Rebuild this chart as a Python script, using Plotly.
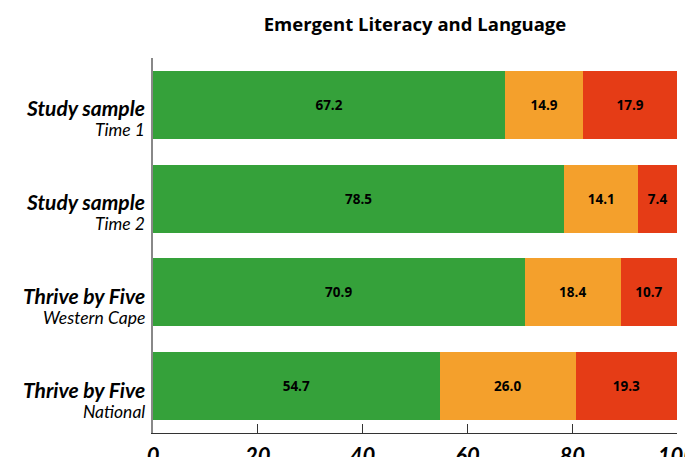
import plotly.graph_objects as go

categories = ["Study sample|Time 1", "Study sample|Time 2", "Thrive by Five|Western Cape", "Thrive by Five|National"]
green_vals = [67.2, 78.5, 70.9, 54.7]
orange_vals = [14.9, 14.1, 18.4, 26.0]
red_vals = [17.9, 7.4, 10.7, 19.3]
x_ticks = [0, 20, 40, 60, 80, 100]

# the page adds an 8px body margin; compensate so the plot lands where the reference has it
OFF = 8
W, H = 693, 457
L, R, T, B = 153 - OFF, W - 677 + OFF, 57.5 - OFF, H - 433 + OFF

fig = go.Figure()
for vals, color in [(green_vals, "#35a13a"), (orange_vals, "#f4a02c"), (red_vals, "#e53c16")]:
    fig.add_trace(go.Bar(
        y=categories, x=vals, orientation="h",
        marker=dict(color=color, line=dict(width=0)),
        text=["%.1f" % v for v in vals],
        textposition="inside", insidetextanchor="middle",
        textfont=dict(family="Open Sans", size=13.5, color="black", weight="bold"),
        textangle=0,
        showlegend=False,
    ))

for c in categories:
    main, sub = c.split("|")
    fig.add_annotation(
        xref="paper", x=0, yref="y", y=c,
        xanchor="right", yanchor="middle", align="right",
        xshift=-6, yshift=-13,
        showarrow=False,
        text=("<span style='font-size:21px'><b><i>%s</i></b></span><br>"
              "<span style='font-size:17.5px'><i>%s</i></span>") % (main, sub),
        font=dict(family="Lato", size=15, color="black"),
    )

fig.update_layout(
    barmode="stack",
    bargap=0.277,
    width=W, height=H,
    margin=dict(l=L, r=R, t=T, b=B, autoexpand=False),
    paper_bgcolor="white", plot_bgcolor="white",
    title=dict(text="<b>Emergent Literacy and Language</b>", x=(415 - OFF) / W, xanchor="center",
               y=1 - (25 - OFF) / H, yanchor="middle",
               font=dict(family="Open Sans", size=18.5, color="black")),
    font=dict(family="Lato", color="black"),
    uniformtext=dict(mode="show", minsize=8),
)
fig.update_xaxes(
    range=[0, 100], tickvals=x_ticks, ticktext=["<b><i>%d</i></b>" % t for t in x_ticks],
    showgrid=False, zeroline=False,
    showline=True, linecolor="#333333", linewidth=1,
    ticks="inside", ticklen=9, tickcolor="#333333",
    tickfont=dict(family="Lato", size=22, color="black"),
    ticklabeloverflow="allow", automargin=False, ticklabelstandoff=4,
    fixedrange=True,
)
fig.update_yaxes(
    autorange="reversed",
    showgrid=False, zeroline=False,
    showline=True, linecolor="#888888", linewidth=1.5,
    ticks="", showticklabels=False, automargin=False,
)

fig.write_html("out.html")
